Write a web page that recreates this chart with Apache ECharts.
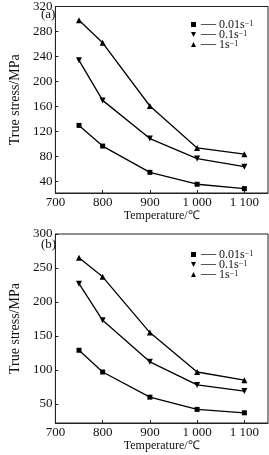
<!DOCTYPE html>
<html>
<head>
<meta charset="utf-8">
<script src="https://cdn.jsdelivr.net/npm/echarts@6/dist/echarts.min.js"></script>
<style>
  html, body { margin: 0; padding: 0; background: #fff; }
  #main { width: 269px; height: 455px; }
</style>
</head>
<body>
<div id="main"></div>
<script>
var temps = [750, 800, 900, 1000, 1100];
var rates = ['0.01', '0.1', '1'];
var xTicks = [700, 800, 900, 1000, 1100];
var yTicksA = [40, 80, 120, 160, 200, 240, 280, 320];
var yTicksB = [50, 100, 150, 200, 250, 300];

// (a)
var stressA001 = [130, 97, 55, 36, 29];
var stressA01 = [234, 170, 109, 77, 64];
var stressA1 = [298, 262, 161, 94, 84];
// (b)
var stressB001 = [129, 97, 60, 42, 37];
var stressB01 = [227, 173, 112, 78, 69];
var stressB1 = [265, 237, 155, 97, 85];

var font = 'Liberation Serif';
var symbols = ['rect', 'triangle', 'triangle'];
var rotates = [0, 180, 0];
var legendIcons = ['rect', 'path://M0,0L10,0L5,10Z', 'triangle'];

function pairs(vals){
    return temps.map(function(t, i){ return [t, vals[i]]; });
}

function makeSeries(vals, k, idx){
    return {
        name: rates[k],
        type: 'line',
        xAxisIndex: idx,
        yAxisIndex: idx,
        data: pairs(vals),
        symbol: symbols[k],
        symbolRotate: rotates[k],
        symbolSize: k == 0 ? 5 : 6,
        lineStyle: {color: '#000', width: 1.3},
        itemStyle: {color: '#000'},
        animation: false
    };
}

function xAxisOpt(idx){
    return {
        type: 'value', gridIndex: idx, min: 700, max: 1150,
        name: 'Temperature/℃', nameLocation: 'middle', nameGap: 11,
        nameTextStyle: {fontFamily: font, fontSize: 12, color: '#111'},
        axisLine: {lineStyle: {color: '#222'}},
        axisTick: {inside: true, length: 3, customValues: xTicks, lineStyle: {color: '#222'}},
        axisLabel: {
            customValues: xTicks, margin: 3, fontFamily: font, fontSize: 13, color: '#111',
            formatter: function(v){ return v >= 1000 ? '1 ' + String(v).slice(1) : String(v); }
        },
        splitLine: {show: false}
    };
}

function yAxisOpt(idx, min, max, ticks){
    return {
        type: 'value', gridIndex: idx, min: min, max: max,
        name: 'True stress/MPa', nameLocation: 'middle', nameGap: 31,
        nameTextStyle: {fontFamily: font, fontSize: 14, color: '#111'},
        axisLine: {lineStyle: {color: '#222'}},
        axisTick: {inside: true, length: 3, customValues: ticks, lineStyle: {color: '#222'}},
        axisLabel: {customValues: ticks, margin: 3, fontFamily: font, fontSize: 13, color: '#111'},
        splitLine: {show: false}
    };
}

function legendOpt(top){
    return {
        orient: 'vertical', left: 191, top: top,
        itemWidth: 5, itemHeight: 5, itemGap: -5, padding: 0,
        data: rates.map(function(r, k){ return {name: r, icon: legendIcons[k]}; }),
        itemStyle: {color: '#000'},
        formatter: function(name){
            return '{d|—}{t| ' + name + 's}{s|−1}';
        },
        textStyle: {
            fontFamily: font, fontSize: 12, color: '#111', lineHeight: 9,
            rich: {
                d: {fontFamily: font, fontSize: 15, color: '#111', lineHeight: 9},
                t: {fontFamily: font, fontSize: 12, color: '#111', lineHeight: 9},
                s: {fontFamily: font, fontSize: 8, color: '#111', lineHeight: 9, verticalAlign: 'top'}
            }
        }
    };
}

var chart = echarts.init(document.getElementById('main'));
var option = {
    backgroundColor: '#fff',
    grid: [
        {left: 36, right: 1, top: 4, height: 189, show: true, borderColor: '#222', borderWidth: 1},
        {left: 36, right: 1, top: 234, height: 189, show: true, borderColor: '#222', borderWidth: 1}
    ],
    xAxis: [xAxisOpt(0), xAxisOpt(1)],
    yAxis: [yAxisOpt(0, 22, 320, yTicksA), yAxisOpt(1, 22, 300, yTicksB)],
    legend: [legendOpt(17), legendOpt(247)],
    graphic: [
        {type: 'text', left: 41, top: 8, z: 10, style: {text: '(a)', font: '13px "Liberation Serif"', fill: '#111'}},
        {type: 'text', left: 41, top: 238, z: 10, style: {text: '(b)', font: '13px "Liberation Serif"', fill: '#111'}}
    ],
    series: [
        makeSeries(stressA001, 0, 0),
        makeSeries(stressA01, 1, 0),
        makeSeries(stressA1, 2, 0),
        makeSeries(stressB001, 0, 1),
        makeSeries(stressB01, 1, 1),
        makeSeries(stressB1, 2, 1)
    ]
};
chart.setOption(option);
</script>
</body>
</html>
